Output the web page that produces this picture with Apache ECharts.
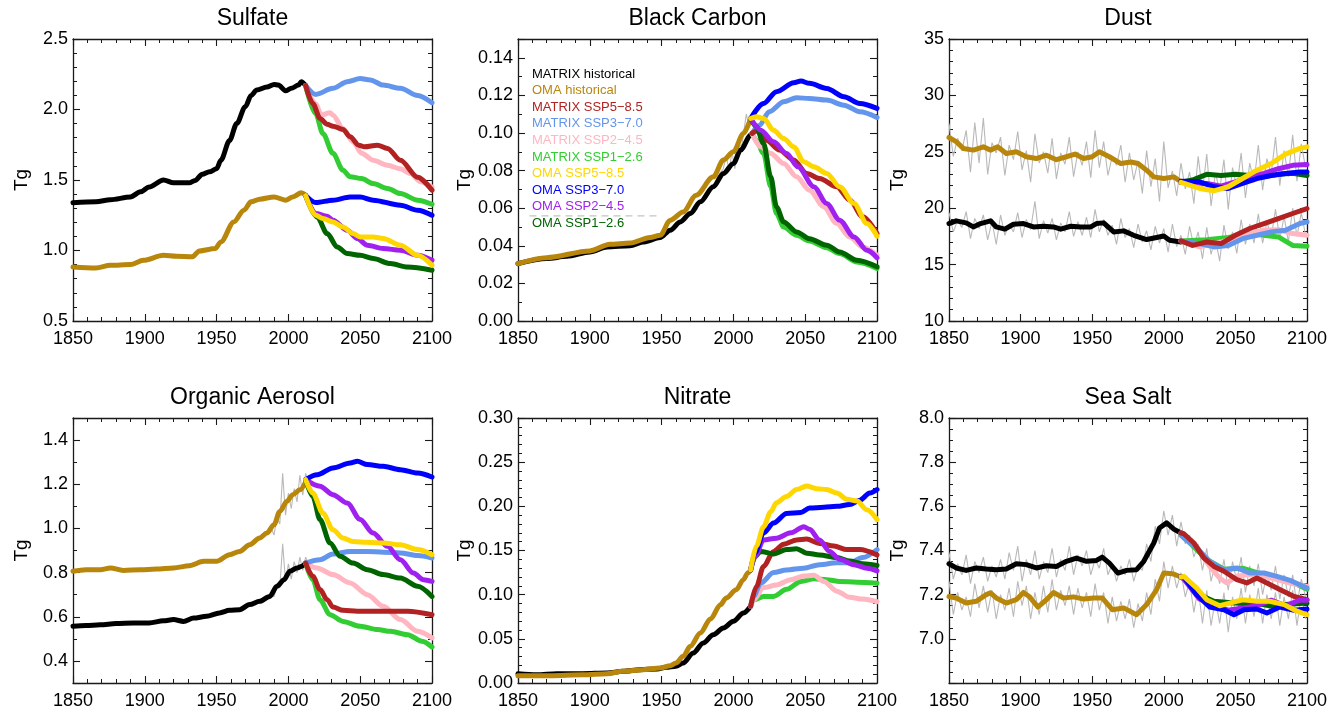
<!DOCTYPE html>
<html>
<head>
<meta charset="utf-8">
<title>Aerosol burdens</title>
<script src="https://cdn.jsdelivr.net/npm/echarts@6/dist/echarts.min.js"></script>
<style>
  html, body { margin: 0; padding: 0; background: #fff; }
  #main { width: 1340px; height: 713px; }
</style>
</head>
<body>
<div id="main"></div>
<script>
// ---- Sulfate ----
var sulfMatrixHist = [[1850,1.338],[1866,1.345],[1876,1.36],[1890,1.38],[1897,1.416],[1903,1.45],[1913,1.50],[1920,1.48],[1931,1.48],[1935,1.497],[1940,1.54],[1945,1.558],[1950,1.58],[1953,1.64],[1959,1.78],[1964,1.90],[1970,2.02],[1974,2.10],[1978,2.138],[1985,2.16],[1990,2.178],[1993,2.173],[1998,2.133],[2002,2.15],[2007,2.173],[2009,2.197],[2012,2.17]];
var sulfOmaHist = [[1850,0.883],[1866,0.876],[1876,0.895],[1890,0.90],[1899,0.93],[1913,0.966],[1922,0.959],[1933,0.955],[1938,0.997],[1949,1.014],[1953,1.061],[1962,1.203],[1969,1.286],[1974,1.345],[1980,1.364],[1990,1.38],[1998,1.357],[2003,1.38],[2009,1.409],[2012,1.392]];
var sulfMatrix585 = [[2012,2.17],[2017,2.043],[2022,1.937],[2027,1.896],[2031,1.882],[2038,1.858],[2043,1.806],[2049,1.747],[2053,1.735],[2062,1.747],[2069,1.724],[2078,1.64],[2090,1.52],[2100,1.428]];
var sulfMatrix370 = [[2012,2.17],[2019,2.107],[2031,2.15],[2041,2.197],[2050,2.22],[2057,2.21],[2066,2.173],[2078,2.15],[2090,2.10],[2100,2.048]];
var sulfMatrix245 = [[2012,2.17],[2019,2.04],[2023,1.96],[2029,1.977],[2031,1.96],[2038,1.866],[2045,1.77],[2051,1.69],[2059,1.64],[2069,1.605],[2078,1.58],[2085,1.546],[2092,1.487],[2100,1.45]];
var sulfMatrix126 = [[2012,2.17],[2019,1.97],[2024,1.83],[2031,1.69],[2038,1.57],[2043,1.523],[2051,1.51],[2059,1.475],[2069,1.44],[2078,1.404],[2090,1.357],[2100,1.328]];
var sulfOma585 = [[2012,1.39],[2019,1.25],[2024,1.227],[2031,1.203],[2038,1.167],[2045,1.12],[2050,1.096],[2059,1.096],[2066,1.085],[2078,1.037],[2090,0.966],[2100,0.895]];
var sulfOma370 = [[2012,1.39],[2019,1.34],[2031,1.357],[2043,1.38],[2050,1.38],[2059,1.357],[2078,1.321],[2090,1.286],[2100,1.25]];
var sulfOma245 = [[2012,1.39],[2019,1.262],[2027,1.243],[2031,1.215],[2041,1.144],[2048,1.085],[2055,1.037],[2066,1.014],[2078,1.002],[2090,0.966],[2100,0.931]];
var sulfOma126 = [[2012,1.39],[2020,1.238],[2027,1.12],[2034,1.025],[2041,0.978],[2050,0.966],[2059,0.943],[2071,0.907],[2083,0.883],[2100,0.86]];

// ---- Black Carbon ----
var bcMatrixHist = [[1850,0.0305],[1870,0.0332],[1884,0.0344],[1900,0.0367],[1912,0.0394],[1928,0.040],[1937,0.042],[1949,0.0444],[1956,0.0483],[1963,0.0527],[1970,0.0572],[1977,0.0634],[1986,0.0714],[1993,0.0785],[2000,0.0838],[2005,0.0909],[2012,0.0989],[2013,0.0998]];
var bcOmaHist = [[1850,0.0305],[1870,0.0337],[1900,0.0373],[1914,0.0408],[1928,0.0415],[1942,0.0444],[1949,0.0456],[1956,0.0536],[1965,0.058],[1974,0.0669],[1986,0.0767],[1993,0.0856],[2000,0.090],[2007,0.0998],[2012,0.1077]];
var bcMatrix585 = [[2013,0.0998],[2016,0.101],[2023,0.0962],[2032,0.0909],[2042,0.0856],[2051,0.0785],[2060,0.0758],[2072,0.0714],[2081,0.0643],[2090,0.0554],[2100,0.0465]];
var bcMatrix370 = [[2013,0.0998],[2018,0.104],[2025,0.1113],[2035,0.1166],[2044,0.1187],[2053,0.1184],[2065,0.1175],[2077,0.1148],[2088,0.1113],[2100,0.1083]];
var bcMatrix245 = [[2013,0.0998],[2019,0.0927],[2026,0.0891],[2035,0.0838],[2044,0.0767],[2053,0.0696],[2063,0.0607],[2072,0.0518],[2081,0.0447],[2090,0.0394],[2100,0.035]];
var bcMatrix126 = [[2013,0.0998],[2016,0.0962],[2021,0.0891],[2026,0.0714],[2030,0.0572],[2035,0.050],[2044,0.0456],[2053,0.0426],[2065,0.039],[2074,0.0359],[2086,0.0314],[2100,0.0279]];
var bcOma585 = [[2012,0.1077],[2016,0.1086],[2021,0.1077],[2028,0.1015],[2035,0.0971],[2042,0.0927],[2049,0.0847],[2056,0.082],[2065,0.0785],[2074,0.0714],[2084,0.0625],[2093,0.0518],[2100,0.0451]];
var bcOma370 = [[2012,0.1077],[2021,0.1157],[2030,0.122],[2042,0.1267],[2047,0.1276],[2053,0.1264],[2065,0.1237],[2077,0.1193],[2088,0.1157],[2100,0.1131]];
var bcOma245 = [[2012,0.1077],[2019,0.1015],[2028,0.0953],[2037,0.0891],[2045,0.082],[2056,0.0714],[2065,0.0625],[2074,0.0536],[2084,0.0447],[2093,0.0376],[2100,0.0337]];
var bcOma126 = [[2012,0.1077],[2016,0.1033],[2021,0.0944],[2026,0.0767],[2030,0.0607],[2035,0.0527],[2044,0.0474],[2053,0.0438],[2065,0.0403],[2074,0.0367],[2086,0.0323],[2100,0.0288]];
var bcGray = [[1990,0.078],[1993,0.081],[1995,0.088],[1997,0.080],[1999,0.090],[2001,0.081],[2003,0.092],[2006,0.094],[2009,0.110],[2011,0.103]];
var bcDashed = [[1858,0.0559],[1949,0.0559]];

// ---- Dust ----
var dustOmaHist = [[1850,26.27],[1855,25.9],[1860,25.3],[1867,25.15],[1874,25.44],[1879,25.15],[1884,25.44],[1890,24.85],[1897,25.0],[1904,24.56],[1911,24.4],[1918,24.7],[1925,24.3],[1932,24.56],[1938,24.8],[1944,24.4],[1950,24.56],[1955,25.0],[1962,24.56],[1970,23.96],[1977,24.1],[1982,23.96],[1988,23.37],[1993,22.78],[2000,22.63],[2007,22.78],[2012,22.34]];
var dustMatrixHist = [[1850,18.64],[1855,18.88],[1862,18.7],[1867,18.34],[1872,18.64],[1879,18.88],[1883,18.34],[1889,18.14],[1895,18.58],[1902,18.64],[1909,18.34],[1916,18.4],[1923,18.34],[1928,18.14],[1935,18.4],[1942,18.34],[1949,18.34],[1953,18.64],[1958,18.7],[1965,17.9],[1972,17.99],[1979,17.6],[1988,17.22],[1995,17.4],[2000,17.54],[2004,17.16],[2012,17.01]];
var dustMatrix585 = [[2012,17.1],[2020,16.7],[2030,17.0],[2040,16.86],[2050,17.6],[2060,18.2],[2070,18.64],[2080,19.08],[2090,19.53],[2100,19.97]];
var dustMatrix370 = [[2012,17.1],[2025,16.86],[2035,16.57],[2045,16.7],[2055,17.3],[2065,17.6],[2075,17.9],[2085,18.05],[2095,18.64],[2100,18.79]];
var dustMatrix245 = [[2012,17.1],[2025,16.57],[2040,17.0],[2055,17.6],[2070,18.05],[2080,18.1],[2090,17.75],[2100,17.6]];
var dustMatrix126 = [[2012,17.1],[2030,17.2],[2045,17.4],[2060,17.75],[2070,17.6],[2080,17.45],[2090,16.7],[2100,16.63]];
var dustOma585 = [[2012,22.3],[2025,21.75],[2035,21.54],[2045,21.9],[2055,22.63],[2065,23.37],[2075,23.96],[2085,24.8],[2095,25.3],[2100,25.44]];
var dustOma370 = [[2012,22.4],[2025,22.34],[2035,21.9],[2045,21.75],[2055,22.2],[2065,22.63],[2075,22.9],[2085,23.08],[2095,23.2],[2100,23.2]];
var dustOma245 = [[2012,22.3],[2030,22.2],[2040,21.95],[2050,22.34],[2060,22.78],[2070,23.08],[2080,23.5],[2090,23.8],[2100,23.88]];
var dustOma126 = [[2012,22.3],[2020,22.5],[2030,23.0],[2040,22.9],[2050,23.0],[2060,22.9],[2070,22.8],[2080,23.0],[2090,23.1],[2100,22.9]];

// years of the grey annual curves (read every third year)
var grayYears = [
  1850,1853,1856,1859,1862,1865,1868,1871,1874,1877,1880,1883,
  1886,1889,1892,1895,1898,1901,1904,1907,1910,1913,1916,1919,
  1922,1925,1928,1931,1934,1937,1940,1943,1946,1949,1952,1955,
  1958,1961,1964,1967,1970,1973,1976,1979,1982,1985,1988,1991,
  1994,1997,2000,2003,2006,2009,2012,2015,2018,2021,2024,2027,
  2030,2033,2036,2039,2042,2045,2048,2051,2054,2057,2060,2063,
  2066,2069,2072,2075,2078,2081,2084,2087,2090,2093,2096,2099];
var dustOmaGray = [
  27.5,24.6,26.2,25.1,26.9,23.2,27.6,24.0,28.0,23.0,25.8,24.9,
  26.3,22.9,25.6,24.3,26.8,23.4,25.1,22.3,26.6,24.0,25.0,23.1,
  26.2,22.6,24.9,23.9,26.3,22.8,25.0,23.8,25.9,22.7,26.9,23.6,
  25.9,22.9,24.6,23.8,25.6,22.3,24.9,22.5,24.2,21.3,25.1,21.9,
  24.4,20.6,25.9,21.8,23.3,21.1,24.0,21.7,23.2,20.4,24.6,21.5,
  24.8,20.2,23.1,21.6,24.3,19.9,23.6,21.8,24.9,20.9,24.0,22.3,
  25.6,21.6,24.4,23.0,26.3,22.0,25.1,22.8,26.5,22.4,25.7,23.6];
var dustMatrixGray = [
  19.6,17.9,18.9,18.3,19.7,17.3,19.1,18.2,19.4,17.2,18.8,16.8,
  19.4,17.6,18.6,17.9,19.6,17.4,19.0,18.1,20.6,17.3,18.9,17.8,
  19.1,17.2,18.7,17.9,19.7,17.5,18.8,17.6,19.2,17.4,19.9,17.9,
  19.0,17.6,18.5,16.8,19.1,17.4,18.2,16.5,18.6,17.0,18.0,16.3,
  18.4,16.9,18.2,16.1,18.6,16.6,17.6,15.9,18.4,16.6,17.9,15.5,
  18.3,15.9,17.4,15.3,18.5,16.4,17.9,16.0,19.0,16.8,18.6,16.9,
  19.5,16.9,18.8,17.4,19.9,17.2,19.3,17.0,20.0,17.5,19.6,17.6];

// ---- Organic Aerosol ----
var oaOmaHist = [[1850,0.806],[1859,0.813],[1869,0.813],[1876,0.821],[1885,0.81],[1897,0.813],[1908,0.816],[1920,0.821],[1931,0.831],[1941,0.851],[1950,0.851],[1959,0.881],[1966,0.896],[1973,0.926],[1980,0.957],[1985,0.979],[1990,1.017],[1994,1.077],[1999,1.123],[2003,1.153],[2008,1.175],[2012,1.21]];
var oaMatrixHist = [[1850,0.557],[1859,0.56],[1869,0.564],[1880,0.569],[1892,0.572],[1903,0.572],[1913,0.582],[1920,0.587],[1927,0.579],[1934,0.594],[1943,0.602],[1952,0.617],[1959,0.629],[1966,0.632],[1973,0.655],[1980,0.67],[1987,0.692],[1992,0.738],[1997,0.768],[2001,0.806],[2006,0.821],[2009,0.828],[2012,0.843]];
var oaMatrix585 = [[2012,0.843],[2017,0.783],[2022,0.723],[2027,0.677],[2031,0.644],[2038,0.629],[2048,0.625],[2059,0.625],[2071,0.625],[2083,0.625],[2100,0.609]];
var oaMatrix370 = [[2012,0.843],[2022,0.858],[2031,0.884],[2043,0.896],[2055,0.896],[2066,0.892],[2078,0.889],[2090,0.877],[2100,0.866]];
var oaMatrix245 = [[2012,0.843],[2020,0.821],[2031,0.791],[2043,0.753],[2055,0.70],[2066,0.647],[2078,0.587],[2090,0.534],[2100,0.504]];
var oaMatrix126 = [[2012,0.843],[2017,0.768],[2022,0.677],[2029,0.609],[2038,0.579],[2050,0.557],[2062,0.542],[2071,0.534],[2083,0.519],[2093,0.489],[2100,0.463]];
var oaOma585 = [[2012,1.221],[2017,1.16],[2024,1.07],[2031,0.994],[2038,0.957],[2045,0.941],[2055,0.937],[2066,0.934],[2078,0.926],[2090,0.904],[2100,0.881]];
var oaOma370 = [[2012,1.221],[2020,1.243],[2031,1.274],[2043,1.296],[2048,1.304],[2055,1.289],[2066,1.281],[2078,1.266],[2090,1.251],[2100,1.233]];
var oaOma245 = [[2012,1.221],[2022,1.191],[2031,1.153],[2041,1.115],[2050,1.04],[2059,0.979],[2069,0.919],[2078,0.858],[2087,0.798],[2094,0.768],[2100,0.76]];
var oaOma126 = [[2012,1.221],[2017,1.145],[2022,1.04],[2029,0.934],[2036,0.874],[2045,0.843],[2055,0.813],[2066,0.791],[2078,0.775],[2090,0.738],[2100,0.692]];
var oaOmaGray = [[1985,0.98],[1988,1.0],[1990,0.97],[1992,1.05],[1994,1.02],[1996,1.25],[1998,1.06],[2000,1.16],[2002,1.09],[2004,1.18],[2006,1.12],[2008,1.24],[2010,1.15],[2012,1.25],[2014,1.2]];
var oaMatrixGray = [[1985,0.68],[1988,0.70],[1990,0.69],[1992,0.75],[1994,0.73],[1996,0.93],[1998,0.76],[2000,0.84],[2002,0.77],[2004,0.85],[2006,0.80],[2008,0.87],[2010,0.81],[2012,0.87],[2014,0.84]];

// ---- Nitrate ----
var nitMatrixHist = [[1850,0.0106],[1863,0.0094],[1877,0.0106],[1895,0.0106],[1912,0.0113],[1923,0.0132],[1935,0.0151],[1947,0.0158],[1953,0.0177],[1960,0.0189],[1965,0.0226],[1972,0.034],[1979,0.0453],[1986,0.0547],[1993,0.0623],[2000,0.0698],[2007,0.0792],[2012,0.0868]];
var nitOmaHist = [[1850,0.0083],[1872,0.0083],[1895,0.0094],[1912,0.0106],[1923,0.0132],[1937,0.0151],[1949,0.017],[1956,0.0196],[1960,0.0226],[1965,0.0302],[1970,0.0415],[1977,0.0566],[1984,0.0725],[1991,0.0887],[1995,0.0962],[2002,0.1057],[2007,0.117],[2010,0.1245],[2012,0.128]];
var nitMatrix585 = [[2012,0.0868],[2016,0.109],[2021,0.132],[2028,0.149],[2035,0.157],[2044,0.162],[2051,0.163],[2060,0.158],[2070,0.155],[2079,0.151],[2088,0.151],[2100,0.145]];
var nitMatrix370 = [[2012,0.0868],[2014,0.098],[2019,0.113],[2028,0.125],[2037,0.128],[2049,0.13],[2060,0.134],[2072,0.136],[2081,0.136],[2090,0.142],[2100,0.151]];
var nitMatrix245 = [[2012,0.0868],[2014,0.094],[2021,0.108],[2030,0.111],[2040,0.117],[2049,0.121],[2056,0.122],[2063,0.115],[2072,0.104],[2081,0.097],[2090,0.095],[2100,0.092]];
var nitMatrix126 = [[2012,0.0868],[2014,0.094],[2021,0.098],[2028,0.098],[2037,0.106],[2047,0.115],[2056,0.118],[2065,0.117],[2074,0.115],[2086,0.114],[2100,0.113]];
var nitOma585 = [[2012,0.128],[2016,0.155],[2021,0.177],[2026,0.194],[2030,0.204],[2037,0.211],[2044,0.219],[2051,0.223],[2058,0.22],[2065,0.219],[2072,0.215],[2079,0.208],[2086,0.206],[2093,0.196],[2100,0.185]];
var nitOma370 = [[2012,0.128],[2015,0.147],[2021,0.17],[2028,0.181],[2037,0.192],[2047,0.193],[2053,0.198],[2063,0.199],[2072,0.20],[2081,0.202],[2088,0.207],[2095,0.215],[2100,0.219]];
var nitOma245 = [[2012,0.128],[2015,0.143],[2021,0.162],[2030,0.164],[2040,0.17],[2049,0.177],[2053,0.174],[2060,0.162],[2067,0.149],[2074,0.14],[2084,0.134],[2093,0.13],[2100,0.127]];
var nitOma126 = [[2012,0.128],[2015,0.143],[2019,0.149],[2028,0.146],[2037,0.151],[2044,0.152],[2051,0.147],[2060,0.145],[2072,0.142],[2081,0.138],[2090,0.135],[2100,0.133]];

// ---- Sea Salt ----
var saltMatrixHist = [[1850,7.34],[1855,7.321],[1862,7.31],[1869,7.321],[1876,7.316],[1883,7.313],[1890,7.316],[1897,7.34],[1904,7.336],[1911,7.321],[1918,7.331],[1925,7.328],[1932,7.351],[1939,7.366],[1946,7.351],[1953,7.355],[1957,7.37],[1962,7.343],[1968,7.298],[1974,7.31],[1981,7.313],[1986,7.351],[1993,7.434],[1997,7.502],[2002,7.525],[2007,7.497],[2012,7.479]];
var saltOmaHist = [[1850,7.192],[1855,7.185],[1862,7.162],[1869,7.17],[1876,7.2],[1879,7.208],[1883,7.185],[1890,7.162],[1897,7.177],[1902,7.21],[1906,7.192],[1912,7.144],[1918,7.177],[1923,7.21],[1930,7.185],[1937,7.19],[1944,7.18],[1951,7.185],[1957,7.185],[1964,7.132],[1972,7.14],[1981,7.109],[1988,7.155],[1995,7.223],[2000,7.298],[2006,7.295],[2012,7.28]];
var saltMatrix585 = [[2012,7.479],[2014,7.476],[2021,7.434],[2028,7.366],[2035,7.328],[2042,7.306],[2051,7.268],[2058,7.253],[2065,7.275],[2072,7.253],[2081,7.223],[2091,7.192],[2100,7.177]];
var saltMatrix370 = [[2012,7.47],[2014,7.457],[2023,7.411],[2032,7.351],[2042,7.313],[2051,7.321],[2060,7.298],[2070,7.298],[2079,7.283],[2088,7.265],[2100,7.23]];
var saltMatrix245 = [[2012,7.479],[2014,7.47],[2023,7.419],[2032,7.328],[2039,7.275],[2044,7.253],[2051,7.283],[2060,7.291],[2070,7.283],[2079,7.268],[2088,7.253],[2100,7.238]];
var saltMatrix126 = [[2012,7.47],[2014,7.46],[2030,7.36],[2042,7.315],[2055,7.32],[2065,7.30],[2075,7.28],[2085,7.27],[2095,7.24],[2100,7.225]];
var saltOma585 = [[2012,7.28],[2014,7.283],[2023,7.23],[2030,7.177],[2039,7.15],[2046,7.162],[2055,7.177],[2065,7.17],[2074,7.17],[2084,7.155],[2093,7.125],[2100,7.109]];
var saltOma370 = [[2012,7.28],[2014,7.28],[2023,7.2],[2032,7.144],[2042,7.132],[2049,7.109],[2056,7.132],[2065,7.135],[2072,7.117],[2081,7.144],[2091,7.129],[2100,7.135]];
var saltOma245 = [[2012,7.28],[2014,7.27],[2025,7.18],[2035,7.15],[2045,7.13],[2055,7.14],[2065,7.15],[2075,7.175],[2085,7.15],[2095,7.175],[2100,7.175]];
var saltOma126 = [[2012,7.28],[2014,7.28],[2025,7.2],[2035,7.17],[2045,7.165],[2055,7.16],[2065,7.16],[2075,7.148],[2085,7.155],[2095,7.16],[2100,7.162]];
var saltMatrixGray = [
  7.39,7.27,7.34,7.29,7.38,7.25,7.35,7.30,7.37,7.26,7.33,7.28,
  7.36,7.27,7.39,7.31,7.42,7.26,7.36,7.29,7.40,7.27,7.35,7.30,
  7.41,7.28,7.36,7.31,7.42,7.29,7.38,7.33,7.40,7.29,7.36,7.32,
  7.41,7.29,7.34,7.26,7.33,7.29,7.36,7.26,7.33,7.31,7.43,7.35,
  7.51,7.43,7.58,7.47,7.56,7.42,7.53,7.43,7.47,7.37,7.43,7.31,
  7.41,7.26,7.34,7.25,7.36,7.22,7.35,7.26,7.37,7.21,7.33,7.24,
  7.34,7.20,7.30,7.22,7.33,7.18,7.29,7.19,7.29,7.15,7.27,7.19];
var saltOmaGray = [
  7.26,7.11,7.21,7.13,7.19,7.10,7.25,7.14,7.24,7.12,7.22,7.09,
  7.20,7.13,7.23,7.10,7.26,7.15,7.24,7.09,7.21,7.11,7.24,7.12,
  7.27,7.13,7.22,7.15,7.24,7.11,7.23,7.14,7.21,7.10,7.25,7.13,
  7.21,7.07,7.19,7.08,7.17,7.09,7.18,7.05,7.16,7.08,7.21,7.11,
  7.27,7.17,7.35,7.23,7.33,7.23,7.30,7.19,7.26,7.12,7.23,7.07,
  7.22,7.06,7.18,7.07,7.21,7.03,7.19,7.09,7.23,7.07,7.20,7.10,
  7.23,7.07,7.20,7.09,7.21,7.06,7.19,7.09,7.22,7.06,7.20,7.09];

// ---- styling / layout ----
var FONT = '"Liberation Sans", Arial, Helvetica, sans-serif';
var INK = '#1a1a1a';
var GRAY = '#b9b9b9';
var runNames = {
  mHist: 'MATRIX historical', oHist: 'OMA historical',
  m585: 'MATRIX SSP5\u22128.5', m370: 'MATRIX SSP3\u22127.0', m245: 'MATRIX SSP2\u22124.5', m126: 'MATRIX SSP1\u22122.6',
  o585: 'OMA SSP5\u22128.5', o370: 'OMA SSP3\u22127.0', o245: 'OMA SSP2\u22124.5', o126: 'OMA SSP1\u22122.6'
};
var runColors = {
  mHist: '#000000', oHist: '#b8860b',
  m585: '#b22222', m370: '#6495ed', m245: '#ffb6c1', m126: '#32cd32',
  o585: '#ffd700', o370: '#0000ff', o245: '#a020f0', o126: '#006400'
};
var legendOrder = ['mHist','oHist','m585','m370','m245','m126','o585','o370','o245','o126'];
var drawOrder = ['mHist','oHist','m126','m245','m370','m585','o126','o245','o370','o585'];

function zipYears(vals) {
  return vals.map(function (v, k) { return [grayYears[k], v]; });
}

var panels = [
  { title: 'Sulfate', min: 0.5, max: 2.5, interval: 0.5, minor: 5, dec: 1, showMin: true, showMax: true, smooth: 0.3,
    runs: { mHist: sulfMatrixHist, oHist: sulfOmaHist, m585: sulfMatrix585, m370: sulfMatrix370, m245: sulfMatrix245, m126: sulfMatrix126,
            o585: sulfOma585, o370: sulfOma370, o245: sulfOma245, o126: sulfOma126 },
    gray: [] },
  { title: 'Black Carbon', min: 0, max: 0.15, interval: 0.02, minor: 2, dec: 2, showMin: true, showMax: false, smooth: 0.3,
    runs: { mHist: bcMatrixHist, oHist: bcOmaHist, m585: bcMatrix585, m370: bcMatrix370, m245: bcMatrix245, m126: bcMatrix126,
            o585: bcOma585, o370: bcOma370, o245: bcOma245, o126: bcOma126 },
    gray: [bcGray] },
  { title: 'Dust', min: 10, max: 35, interval: 5, minor: 5, dec: 0, showMin: true, showMax: true, smooth: false,
    runs: { mHist: dustMatrixHist, oHist: dustOmaHist, m585: dustMatrix585, m370: dustMatrix370, m245: dustMatrix245, m126: dustMatrix126,
            o585: dustOma585, o370: dustOma370, o245: dustOma245, o126: dustOma126 },
    gray: [zipYears(dustOmaGray), zipYears(dustMatrixGray)] },
  { title: 'Organic Aerosol', min: 0.3, max: 1.5, splitNumber: 6, minor: 2, dec: 1, showMin: false, showMax: false, smooth: 0.3,
    runs: { mHist: oaMatrixHist, oHist: oaOmaHist, m585: oaMatrix585, m370: oaMatrix370, m245: oaMatrix245, m126: oaMatrix126,
            o585: oaOma585, o370: oaOma370, o245: oaOma245, o126: oaOma126 },
    gray: [oaOmaGray, oaMatrixGray] },
  { title: 'Nitrate', min: 0, max: 0.30, interval: 0.05, minor: 5, dec: 2, showMin: true, showMax: true, smooth: 0.3,
    runs: { mHist: nitMatrixHist, oHist: nitOmaHist, m585: nitMatrix585, m370: nitMatrix370, m245: nitMatrix245, m126: nitMatrix126,
            o585: nitOma585, o370: nitOma370, o245: nitOma245, o126: nitOma126 },
    gray: [] },
  { title: 'Sea Salt', min: 6.8, max: 8.0, interval: 0.2, minor: 4, dec: 1, showMin: false, showMax: true, smooth: false,
    runs: { mHist: saltMatrixHist, oHist: saltOmaHist, m585: saltMatrix585, m370: saltMatrix370, m245: saltMatrix245, m126: saltMatrix126,
            o585: saltOma585, o370: saltOma370, o245: saltOma245, o126: saltOma126 },
    gray: [zipYears(saltOmaGray), zipYears(saltMatrixGray)] }
];

var colLeft = [73, 518, 949];
var colWidth = [359, 359, 358];
var rowTop = [39, 418];
var rowHeight = [282, 265];
var titleTop = [7, 386];

var grids = [], xAxes = [], yAxes = [], titles = [], series = [];
var lineAxis = { show: true, onZero: false, lineStyle: { color: INK, width: 1.3 } };
var majorTick = { show: true, inside: true, length: 7, lineStyle: { color: INK, width: 1.1 } };

panels.forEach(function (p, i) {
  var col = i % 3, row = Math.floor(i / 3);
  grids.push({ left: colLeft[col], top: rowTop[row], width: colWidth[col], height: rowHeight[row], containLabel: false });
  titles.push({
    text: p.title, left: colLeft[col] + colWidth[col] / 2, top: titleTop[row], textAlign: 'center', padding: 0,
    textStyle: { fontSize: 23, fontWeight: 'normal', color: '#000', fontFamily: FONT }
  });

  var xBase = {
    gridIndex: i, type: 'value', min: 1850, max: 2100, interval: 50,
    axisLine: lineAxis, axisTick: majorTick, splitLine: { show: false },
    minorTick: { show: true, splitNumber: 5, length: 4, lineStyle: { color: INK, width: 1 } }
  };
  xAxes.push(Object.assign({}, xBase, { position: 'bottom',
    axisLabel: { show: true, fontSize: 18, color: '#000', margin: 9, fontFamily: FONT, showMinLabel: true, showMaxLabel: true,
      formatter: function (v) { return String(v); } } }));
  xAxes.push(Object.assign({}, xBase, { position: 'top', axisLabel: { show: false } }));

  var yBase = {
    gridIndex: i, type: 'value', min: p.min, max: p.max,
    axisLine: lineAxis, axisTick: majorTick, splitLine: { show: false },
    minorTick: { show: true, splitNumber: p.minor, length: 4, lineStyle: { color: INK, width: 1 } }
  };
  if (p.interval) { yBase.interval = p.interval; } else { yBase.splitNumber = p.splitNumber; }
  yAxes.push(Object.assign({}, yBase, { position: 'left',
    name: 'Tg', nameLocation: 'middle', nameGap: 42,
    nameTextStyle: { fontSize: 19, color: '#000', fontFamily: FONT },
    axisLabel: { show: true, fontSize: 18, color: '#000', margin: 5, fontFamily: FONT,
      showMinLabel: p.showMin, showMaxLabel: p.showMax,
      formatter: (function (d) { return function (v) { return v.toFixed(d); }; })(p.dec) } }));
  yAxes.push(Object.assign({}, yBase, { position: 'right', axisLabel: { show: false } }));

  p.gray.forEach(function (g) {
    series.push({ type: 'line', xAxisIndex: 2 * i, yAxisIndex: 2 * i, data: g, symbol: 'none', silent: true,
      lineStyle: { color: GRAY, width: 1.1 }, z: 1 });
  });
  if (i === 1) {
    series.push({ type: 'line', xAxisIndex: 2, yAxisIndex: 2, data: bcDashed, symbol: 'none', silent: true,
      lineStyle: { color: '#c4c4c4', width: 1.2, type: [7, 5] }, z: 1 });
  }
  drawOrder.forEach(function (k, n) {
    series.push({
      type: 'line', name: runNames[k], xAxisIndex: 2 * i, yAxisIndex: 2 * i, data: p.runs[k],
      symbol: 'none', showSymbol: false, smooth: p.smooth, smoothMonotone: 'x', silent: true,
      lineStyle: { color: runColors[k], width: 5, cap: 'round', join: 'round' },
      itemStyle: { color: runColors[k] }, z: 2 + n
    });
  });
});

var chart = echarts.init(document.getElementById('main'), null, { renderer: 'canvas' });
chart.setOption({
  animation: false,
  backgroundColor: '#ffffff',
  textStyle: { fontFamily: FONT },
  title: titles,
  grid: grids,
  xAxis: xAxes,
  yAxis: yAxes,
  legend: {
    orient: 'vertical', left: 527, top: 67, itemWidth: 0, itemHeight: 14, itemGap: 2.6, padding: 0,
    selectedMode: false, icon: 'rect', itemStyle: { opacity: 0 }, lineStyle: { opacity: 0 },
    textStyle: { fontSize: 13, fontFamily: FONT, lineHeight: 14 },
    data: legendOrder.map(function (k) { return { name: runNames[k], textStyle: { color: runColors[k] } }; })
  },
  series: series
});
</script>
</body>
</html>
